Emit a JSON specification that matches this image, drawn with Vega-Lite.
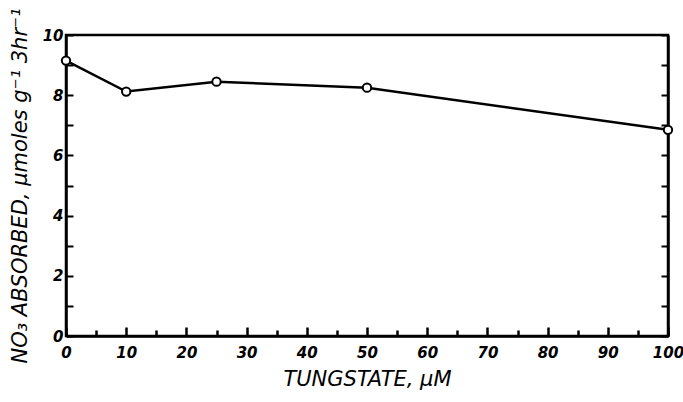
{
  "$schema": "https://vega.github.io/schema/vega-lite/v6.json",
  "autosize": "none",
  "width": 602,
  "height": 301,
  "padding": {"left": 66, "top": 35, "right": 15, "bottom": 66},
  "background": "white",
  "config": {
    "view": {"stroke": "black", "strokeWidth": 2.5},
    "axis": {
      "domainColor": "black", "domainWidth": 2.5, "tickColor": "black", "tickWidth": 2,
      "grid": false, "labelColor": "black", "titleColor": "black",
      "labelFont": "DejaVu Sans", "labelFontStyle": "italic", "labelFontWeight": "bold", "labelFontSize": 15,
      "titleFont": "DejaVu Sans", "titleFontStyle": "italic", "titleFontWeight": "normal", "titleFontSize": 21
    }
  },
  "data": {"values": [
    {"tungstate": 0, "no3": 9.15},
    {"tungstate": 10, "no3": 8.12},
    {"tungstate": 25, "no3": 8.45},
    {"tungstate": 50, "no3": 8.25},
    {"tungstate": 100, "no3": 6.85}
  ]},
  "layer": [
    {
      "mark": {"type": "point", "opacity": 0},
      "encoding": {
        "x": {"field": "tungstate", "type": "quantitative", "scale": {"domain": [0, 100], "nice": false},
          "axis": {"orient": "bottom", "title": null, "labels": false, "domain": false, "values": [5,15,25,35,45,55,65,75,85,95], "offset": -6, "tickSize": 6, "tickColor": "black", "tickWidth": 2.5}},
        "y": {"field": "no3", "type": "quantitative", "scale": {"domain": [0, 10], "nice": false},
          "axis": {"title": "NO₃ ABSORBED, μmoles g⁻¹ 3hr⁻¹", "values": [0,1,2,3,4,5,6,7,8,9,10],
            "labelExpr": "datum.value % 2 === 0 ? datum.label : ''",
            "tickSize": -7, "labelPadding": 10, "titlePadding": 12}}
      }
    },
    {
      "mark": {"type": "line", "color": "black", "strokeWidth": 2.5},
      "encoding": {
        "x": {"field": "tungstate", "type": "quantitative",
          "axis": {"orient": "bottom", "title": "TUNGSTATE, μM", "values": [0,10,20,30,40,50,60,70,80,90,100],
            "ticks": false, "labelPadding": 9, "titlePadding": 8, "labelFlush": false}},
        "y": {"field": "no3", "type": "quantitative",
          "axis": {"orient": "right", "title": null, "labels": false, "values": [0,1,2,3,4,5,6,7,8,9,10], "tickSize": -7}}
      }
    },
    {
      "mark": {"type": "point", "shape": "circle", "filled": true, "fill": "white", "stroke": "black", "strokeWidth": 2, "size": 70, "opacity": 1},
      "encoding": {
        "x": {"field": "tungstate", "type": "quantitative",
          "axis": {"orient": "bottom", "title": null, "labels": false, "domain": false, "values": [0,10,20,30,40,50,60,70,80,90,100], "offset": -9, "tickSize": 9, "tickColor": "black", "tickWidth": 2.5}},
        "y": {"field": "no3", "type": "quantitative", "axis": null}
      }
    }
  ],
  "resolve": {"axis": {"y": "independent", "x": "independent"}}
}
